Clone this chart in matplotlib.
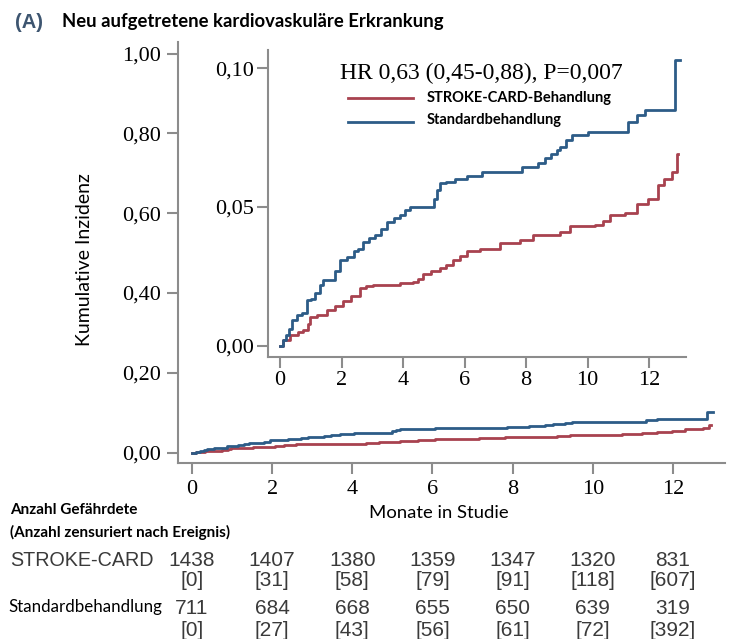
import matplotlib
matplotlib.use("Agg")
import matplotlib.pyplot as plt
import matplotlib.transforms as mtransforms
from matplotlib.lines import Line2D
from matplotlib.ticker import FuncFormatter

# --- data ---
months_ticks = [0, 2, 4, 6, 8, 10, 12]

# Standardbehandlung (blue)
std_t = [0, 0.1, 0.2, 0.3, 0.38, 0.55, 0.7, 0.87, 1.0, 1.15, 1.3, 1.41, 1.6, 1.8,
         1.95, 2.17, 2.4, 2.55, 2.71, 2.9, 3.1, 3.3, 3.47, 3.7, 3.9, 4.05, 4.23,
         4.93, 5.0, 5.1, 5.2, 5.4, 5.7, 6.07, 6.56, 7.86, 8.4, 8.6, 8.8, 9.0,
         9.1, 9.3, 9.49, 10.03, 11.33, 11.6, 11.87, 12.85, 13.0]
std_y = [0, 0.002, 0.004, 0.006, 0.0094, 0.011, 0.012, 0.0165, 0.017, 0.019,
         0.022, 0.0237, 0.0237, 0.027, 0.031, 0.032, 0.034, 0.035, 0.0375, 0.039,
         0.040, 0.042, 0.0447, 0.046, 0.047, 0.049, 0.0499, 0.0499, 0.053, 0.056,
         0.0585, 0.059, 0.060, 0.061, 0.0627, 0.0645, 0.066, 0.0675, 0.069,
         0.0705, 0.0717, 0.074, 0.0759, 0.0771, 0.0807, 0.0831, 0.0849, 0.1029,
         0.1029]

# STROKE-CARD-Behandlung (red)
sc_t = [0, 0.1, 0.33, 0.6, 0.76, 0.9, 0.98, 1.2, 1.52, 1.8, 2.06, 2.3, 2.6, 2.8,
        3.03, 3.9, 4.34, 4.5, 4.66, 4.9, 5.2, 5.4, 5.64, 5.85, 6.07, 6.5, 7.15,
        7.8, 8.24, 9.1, 9.43, 10.24, 10.5, 10.73, 11.22, 11.6, 11.98, 12.3, 12.5,
        12.74, 12.9, 12.95]
sc_y = [0, 0.002, 0.004, 0.005, 0.0058, 0.008, 0.0105, 0.011, 0.013, 0.0145,
        0.016, 0.018, 0.0207, 0.0215, 0.022, 0.0225, 0.0231, 0.024, 0.026, 0.027,
        0.028, 0.029, 0.031, 0.0325, 0.034, 0.035, 0.037, 0.038, 0.040, 0.041,
        0.043, 0.0435, 0.045, 0.047, 0.048, 0.051, 0.053, 0.058, 0.060, 0.0627,
        0.069, 0.069]

# number at risk table
risk_sc = ["1438", "1407", "1380", "1359", "1347", "1320", "831"]
cens_sc = ["[0]", "[31]", "[58]", "[79]", "[91]", "[118]", "[607]"]
risk_std = ["711", "684", "668", "655", "650", "639", "319"]
cens_std = ["[0]", "[27]", "[43]", "[56]", "[61]", "[72]", "[392]"]

BLUE = "#2d5c87"
RED = "#a8424f"
SPINE = "#8c8c8c"
GREY_TXT = "#3a3a3a"
W, H = 731, 639


def fx(px):
    return px / W


def fy(py):
    return 1 - py / H


comma = lambda fmt: FuncFormatter(lambda v, p: (fmt % v).replace(".", ","))
serif = "Liberation Serif"
sans = "Lato"

fig = plt.figure(figsize=(W / 100, H / 100), dpi=100)

# --- main axes ---
ax = fig.add_axes([fx(178), fy(463), fx(725) - fx(178), fy(42) - fy(463)])
ax.step(sc_t, sc_y, where="post", color=RED, lw=2)
ax.step(std_t, std_y, where="post", color=BLUE, lw=2)
ax.set_xlim(-0.35, 13.3)
ax.set_ylim(-0.026, 1.029)
ax.set_xticks(months_ticks)
ax.set_yticks([0, 0.2, 0.4, 0.6, 0.8, 1.0])
ax.yaxis.set_major_formatter(comma("%.2f"))
for s in ["top", "right"]:
    ax.spines[s].set_visible(False)
for s in ["left", "bottom"]:
    ax.spines[s].set_color(SPINE)
    ax.spines[s].set_linewidth(1.5)
ax.tick_params(length=8, width=1.5, color=SPINE, labelsize=16, pad=4)
for lab in ax.get_xticklabels() + ax.get_yticklabels():
    lab.set_fontfamily(serif)

# --- inset ---
ins = fig.add_axes([fx(268), fy(357), fx(686) - fx(268), fy(50) - fy(357)])
ins.step(sc_t, sc_y, where="post", color=RED, lw=2)
ins.step(std_t, std_y, where="post", color=BLUE, lw=2)
ins.set_xlim(-0.39, 13.2)
ins.set_ylim(-0.004, 0.1065)
ins.set_xticks(months_ticks)
ins.set_yticks([0, 0.05, 0.10])
ins.yaxis.set_major_formatter(comma("%.2f"))
for s in ["top", "right"]:
    ins.spines[s].set_visible(False)
for s in ["left", "bottom"]:
    ins.spines[s].set_color(SPINE)
    ins.spines[s].set_linewidth(1.5)
ins.tick_params(length=8, width=1.5, color=SPINE, labelsize=16, pad=2)
for lab in ins.get_xticklabels() + ins.get_yticklabels():
    lab.set_fontfamily(serif)

# legend inside inset
fig.text(fx(481), fy(73), "HR 0,63 (0,45-0,88), P=0,007", family=serif,
         fontsize=17, ha="center", va="center")
fig.add_artist(Line2D([fx(348), fx(413)], [fy(98), fy(98)], color=RED, lw=2))
fig.add_artist(Line2D([fx(348), fx(413)], [fy(122), fy(122)], color=BLUE, lw=2))
fig.text(fx(427), fy(98), "STROKE-CARD-Behandlung", family=sans, weight="bold",
         fontsize=10.5, va="center")
fig.text(fx(427), fy(120), "Standardbehandlung", family=sans, weight="bold",
         fontsize=10.5, va="center")

# titles and axis labels
fig.text(fx(15), fy(22), "(A)", family="Liberation Sans", weight="bold",
         fontsize=14.5, color="#3d5570", va="center")
fig.text(fx(62), fy(22), "Neu aufgetretene kardiovaskuläre Erkrankung",
         family=sans, weight="bold", fontsize=13.3, va="center")
fig.text(fx(85), fy(260), "Kumulative Inzidenz", family=sans, fontsize=14,
         rotation=90, ha="center", va="center")
fig.text(fx(439), fy(513), "Monate in Studie", family=sans, fontsize=13.3,
         ha="center", va="center")

# risk table
fig.text(fx(10), fy(510), "Anzahl Gefährdete", family=sans, weight="bold",
         fontsize=11, va="center")
fig.text(fx(10), fy(532), "(Anzahl zensuriert nach Ereignis)", family=sans,
         weight="bold", fontsize=11, va="center")
fig.text(fx(10), fy(560), "STROKE-CARD", family="Liberation Sans", fontsize=14.2,
         color=GREY_TXT, va="center")
fig.text(fx(8), fy(607), "Standardbehandlung", family=sans, fontsize=12.2,
         va="center")
tr = mtransforms.blended_transform_factory(ax.transData, fig.transFigure)
for i, m in enumerate(months_ticks):
    for label, py in [(risk_sc[i], 560), (cens_sc[i], 580),
                      (risk_std[i], 608), (cens_std[i], 631)]:
        ax.text(m, fy(py), label, transform=tr, family="Liberation Sans",
                fontsize=15, color=GREY_TXT, ha="center", va="center",
                clip_on=False)

fig.savefig("out.png", dpi=100)
